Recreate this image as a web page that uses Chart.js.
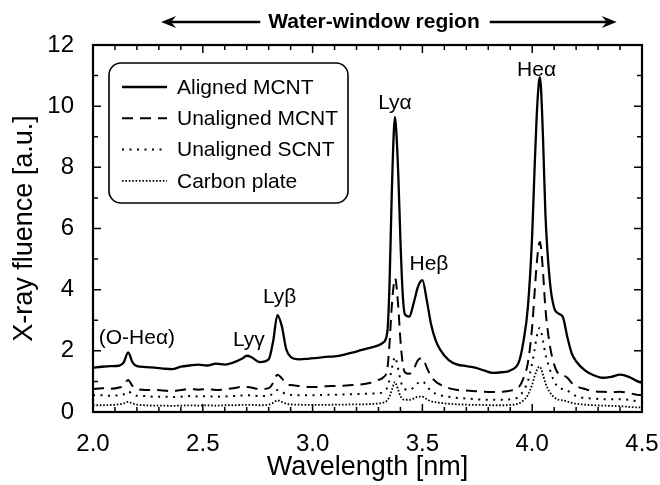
<!DOCTYPE html>
<html>
<head>
<meta charset="utf-8">
<script src="https://cdn.jsdelivr.net/npm/chart.js@4/dist/chart.umd.min.js"></script>
<style>
  html, body { margin: 0; padding: 0; background: #fff; }
  #wrap { width: 660px; height: 485px; }
</style>
</head>
<body>
<div id="wrap"><canvas id="fluence-chart" width="660" height="485"></canvas></div>
<script>
// wavelength grid [nm], denser around the emission lines
const wavelength = [
  2.00, 2.04, 2.08, 2.12, 2.14, 2.16, 2.18, 2.20, 2.24, 2.28,
  2.32, 2.36, 2.40, 2.44, 2.48, 2.52, 2.56, 2.60, 2.64, 2.68,
  2.70, 2.72, 2.76, 2.80, 2.82, 2.84, 2.86, 2.88, 2.90, 2.94,
  2.98, 3.02, 3.06, 3.10, 3.14, 3.18, 3.22, 3.26, 3.30, 3.32,
  3.34, 3.35, 3.36, 3.37, 3.375, 3.38, 3.39, 3.40, 3.41, 3.42,
  3.44, 3.46, 3.48, 3.50, 3.52, 3.54, 3.56, 3.58, 3.62, 3.66,
  3.70, 3.74, 3.78, 3.82, 3.86, 3.90, 3.94, 3.96, 3.98, 4.00,
  4.01, 4.02, 4.03, 4.035, 4.04, 4.05, 4.06, 4.08, 4.10, 4.12,
  4.14, 4.16, 4.18, 4.20, 4.24, 4.28, 4.32, 4.36, 4.40, 4.44,
  4.48, 4.50
];

const alignedMCNT = [
  1.45, 1.48, 1.50, 1.52, 1.62, 1.95, 1.62, 1.50, 1.47, 1.45,
  1.42, 1.40, 1.48, 1.52, 1.55, 1.52, 1.58, 1.55, 1.62, 1.75,
  1.84, 1.80, 1.63, 1.72, 2.30, 3.17, 2.80, 2.05, 1.80, 1.72,
  1.74, 1.77, 1.80, 1.82, 1.87, 1.94, 2.02, 2.10, 2.18, 2.26,
  2.60, 4.10, 7.00, 9.20, 9.65, 9.30, 7.80, 5.60, 3.90, 3.20,
  3.12, 3.55, 4.10, 4.31, 3.65, 2.85, 2.35, 2.05, 1.70, 1.55,
  1.50, 1.45, 1.36, 1.28, 1.30, 1.36, 1.65, 2.30, 3.40, 5.80,
  7.80, 9.60, 10.75, 10.95, 10.60, 8.80, 6.50, 4.30, 3.40, 3.22,
  3.10, 2.45, 1.92, 1.66, 1.36, 1.20, 1.12, 1.15, 1.22, 1.15,
  1.00, 0.95
];

const unalignedMCNT = [
  0.75, 0.78, 0.76, 0.80, 0.86, 1.05, 0.85, 0.75, 0.72, 0.72,
  0.70, 0.68, 0.72, 0.75, 0.73, 0.75, 0.72, 0.74, 0.78, 0.82,
  0.82, 0.80, 0.75, 0.78, 0.95, 1.22, 1.10, 0.92, 0.88, 0.85,
  0.82, 0.82, 0.84, 0.85, 0.86, 0.88, 0.90, 0.95, 1.05, 1.12,
  1.40, 2.20, 3.40, 4.20, 4.38, 4.25, 3.45, 2.35, 1.60, 1.30,
  1.25, 1.40, 1.70, 1.76, 1.45, 1.15, 1.00, 0.90, 0.78, 0.72,
  0.70, 0.68, 0.66, 0.65, 0.66, 0.70, 0.82, 1.10, 1.60, 2.80,
  3.80, 4.80, 5.45, 5.56, 5.40, 4.50, 3.40, 2.20, 1.55, 1.25,
  1.20, 1.12, 0.95, 0.85, 0.75, 0.68, 0.66, 0.65, 0.66, 0.62,
  0.56, 0.55
];

const unalignedSCNT = [
  0.55, 0.55, 0.53, 0.55, 0.58, 0.68, 0.58, 0.53, 0.52, 0.50,
  0.50, 0.49, 0.50, 0.52, 0.51, 0.52, 0.50, 0.51, 0.52, 0.54,
  0.55, 0.54, 0.52, 0.53, 0.60, 0.72, 0.66, 0.58, 0.56, 0.55,
  0.55, 0.55, 0.56, 0.56, 0.57, 0.58, 0.59, 0.60, 0.62, 0.65,
  0.80, 1.05, 1.40, 1.72, 1.80, 1.72, 1.40, 1.05, 0.82, 0.75,
  0.72, 0.80, 0.95, 1.00, 0.85, 0.68, 0.60, 0.55, 0.50, 0.46,
  0.44, 0.42, 0.40, 0.40, 0.40, 0.42, 0.50, 0.70, 1.00, 1.60,
  2.00, 2.45, 2.72, 2.75, 2.65, 2.30, 1.90, 1.40, 1.00, 0.80,
  0.75, 0.70, 0.60, 0.52, 0.46, 0.44, 0.42, 0.42, 0.42, 0.40,
  0.35, 0.33
];

const carbonPlate = [
  0.22, 0.22, 0.23, 0.25, 0.28, 0.33, 0.28, 0.24, 0.22, 0.21,
  0.21, 0.20, 0.21, 0.22, 0.21, 0.22, 0.21, 0.22, 0.22, 0.23,
  0.23, 0.23, 0.22, 0.24, 0.30, 0.38, 0.33, 0.27, 0.25, 0.24,
  0.23, 0.23, 0.23, 0.24, 0.24, 0.25, 0.25, 0.26, 0.28, 0.30,
  0.38, 0.50, 0.70, 0.92, 0.98, 0.92, 0.72, 0.52, 0.42, 0.40,
  0.40, 0.44, 0.50, 0.50, 0.42, 0.35, 0.32, 0.30, 0.27, 0.25,
  0.24, 0.23, 0.23, 0.22, 0.22, 0.23, 0.28, 0.38, 0.55, 0.90,
  1.15, 1.35, 1.47, 1.48, 1.42, 1.20, 0.95, 0.65, 0.48, 0.40,
  0.38, 0.34, 0.30, 0.27, 0.24, 0.22, 0.21, 0.20, 0.19, 0.17,
  0.15, 0.15
];

const xTicks = [2.0, 2.5, 3.0, 3.5, 4.0, 4.5];
const yTicks = [0, 2, 4, 6, 8, 10, 12];

// line labels, placed in data units
const lineNames = ['(O-He\u03B1)', 'Ly\u03B3', 'Ly\u03B2', 'Ly\u03B1', 'He\u03B2', 'He\u03B1'];
const lineNameX = [2.20, 2.71, 2.85, 3.375, 3.53, 4.02];
const lineNameY = [2.42, 2.35, 3.76, 10.1, 4.84, 11.18];

const FONT = '"Liberation Sans", Arial, Helvetica, sans-serif';
Chart.defaults.font.family = FONT;
Chart.defaults.color = '#000';

function series(values) {
  return values.map((v, i) => ({ x: wavelength[i], y: v }));
}

const canvas = document.querySelector('#fluence-chart');

// box, inward ticks on all four sides
const frameTicks = {
  id: 'frameTicks',
  afterDatasetsDraw(chart) {
    const { ctx, chartArea: a, scales: { x, y } } = chart;
    ctx.save();
    ctx.strokeStyle = '#000';
    ctx.lineWidth = 1.5;
    ctx.beginPath();
    for (let i = 0; i <= 25; i++) {
      const px = x.getPixelForValue(2 + i * 0.1);
      const len = i % 5 === 0 ? 8 : 5;
      ctx.moveTo(px, a.bottom); ctx.lineTo(px, a.bottom - len);
      ctx.moveTo(px, a.top); ctx.lineTo(px, a.top + len);
    }
    for (let v = 0; v <= 12; v++) {
      const py = y.getPixelForValue(v);
      const len = v % 2 === 0 ? 8 : 5;
      ctx.moveTo(a.left, py); ctx.lineTo(a.left + len, py);
      ctx.moveTo(a.right, py); ctx.lineTo(a.right - len, py);
    }
    ctx.stroke();
    ctx.lineWidth = 2.2;
    ctx.strokeRect(a.left, a.top, a.right - a.left, a.bottom - a.top);
    ctx.restore();
  }
};

// legend in a rounded box inside the plot
const boxLegend = {
  id: 'boxLegend',
  afterDatasetsDraw(chart) {
    const { ctx } = chart;
    const bx = 109, by = 63, bw = 239, bh = 140, r = 12;
    ctx.save();
    ctx.fillStyle = '#fff';
    ctx.strokeStyle = '#000';
    ctx.lineWidth = 1.6;
    ctx.beginPath();
    ctx.roundRect(bx, by, bw, bh, r);
    ctx.fill();
    ctx.stroke();
    ctx.font = '21px ' + FONT;
    ctx.textBaseline = 'middle';
    ctx.fillStyle = '#000';
    chart.data.datasets.forEach((ds, i) => {
      const yy = by + 24 + i * 31.3;
      ctx.lineWidth = ds.borderWidth;
      ctx.setLineDash(ds.borderDash || []);
      ctx.beginPath();
      ctx.moveTo(122, yy);
      ctx.lineTo(167, yy);
      ctx.stroke();
      ctx.setLineDash([]);
      ctx.fillText(ds.label, 177, yy + 1);
    });
    ctx.restore();
  }
};

// emission line names and the water-window arrow above the plot
const annotations = {
  id: 'annotations',
  afterDraw(chart) {
    const { ctx, scales: { x, y } } = chart;
    ctx.save();
    ctx.fillStyle = '#000';
    ctx.font = '21px ' + FONT;
    ctx.textAlign = 'center';
    ctx.textBaseline = 'middle';
    lineNames.forEach((t, i) => {
      ctx.fillText(t, x.getPixelForValue(lineNameX[i]), y.getPixelForValue(lineNameY[i]));
    });

    const ay = 22;
    const xl = x.getPixelForValue(2.31), xr = x.getPixelForValue(4.385);
    ctx.font = 'bold 21px ' + FONT;
    const label = 'Water-window region';
    const cx = 374;
    ctx.fillText(label, cx, ay);
    const half = ctx.measureText(label).width / 2;
    ctx.strokeStyle = '#000';
    ctx.lineWidth = 2.4;
    ctx.beginPath();
    ctx.moveTo(xl + 6, ay); ctx.lineTo(cx - half - 8, ay);
    ctx.moveTo(cx + half + 10, ay); ctx.lineTo(xr - 6, ay);
    ctx.stroke();
    const head = (tip, dir) => {
      ctx.beginPath();
      ctx.moveTo(tip, ay);
      ctx.lineTo(tip + dir * 15, ay - 6);
      ctx.lineTo(tip + dir * 10, ay);
      ctx.lineTo(tip + dir * 15, ay + 6);
      ctx.closePath();
      ctx.fill();
    };
    head(xl, 1);
    head(xr, -1);
    ctx.restore();
  }
};

new Chart(canvas.getContext('2d'), {
  type: 'line',
  data: {
    datasets: [
      { label: 'Aligned MCNT', data: series(alignedMCNT), borderColor: '#000', borderWidth: 2.3, borderDash: [] },
      { label: 'Unaligned MCNT', data: series(unalignedMCNT), borderColor: '#000', borderWidth: 2, borderDash: [11, 7] },
      { label: 'Unaligned SCNT', data: series(unalignedSCNT), borderColor: '#000', borderWidth: 2, borderDash: [2, 5.5] },
      { label: 'Carbon plate', data: series(carbonPlate), borderColor: '#000', borderWidth: 1.8, borderDash: [1.6, 1.8] }
    ]
  },
  options: {
    responsive: false,
    animation: false,
    devicePixelRatio: 1,
    layout: { padding: { top: 45, right: 18, left: 0, bottom: 0 } },
    elements: {
      point: { radius: 0 },
      line: { cubicInterpolationMode: 'monotone', borderCapStyle: 'butt' }
    },
    plugins: {
      legend: { display: false },
      tooltip: { enabled: false }
    },
    scales: {
      x: {
        type: 'linear',
        min: 2.0,
        max: 4.5,
        afterBuildTicks: s => { s.ticks = xTicks.map(v => ({ value: v })); },
        afterFit: s => { s.height = 73; s.paddingLeft = 0; s.paddingRight = 0; },
        ticks: { font: { size: 24 }, padding: 18, maxRotation: 0, callback: v => v.toFixed(1) },
        grid: { display: false, drawTicks: false },
        border: { display: false },
        title: { display: true, text: 'Wavelength [nm]', font: { size: 27 }, padding: { top: 0, bottom: 1 } }
      },
      y: {
        min: 0,
        max: 12,
        afterBuildTicks: s => { s.ticks = yTicks.map(v => ({ value: v })); },
        afterFit: s => { s.width = 93; s.paddingTop = 0; s.paddingBottom = 0; },
        ticks: { font: { size: 24 }, padding: 19 },
        grid: { display: false, drawTicks: false },
        border: { display: false },
        title: { display: true, text: 'X-ray fluence [a.u.]', font: { size: 27 }, padding: { top: 8, bottom: 0 } }
      }
    }
  },
  plugins: [frameTicks, boxLegend, annotations]
});
</script>
</body>
</html>
